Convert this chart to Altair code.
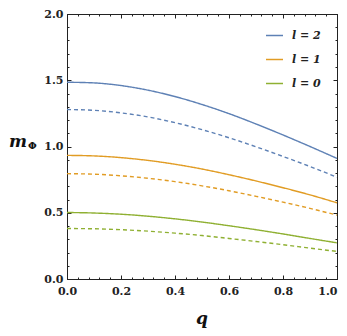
import altair as alt
import pandas as pd

# ---- data ----
q = [0.0, 0.1, 0.2, 0.3, 0.4, 0.5, 0.6, 0.7, 0.8, 0.9, 1.0]
l2_solid = [1.485, 1.480, 1.460, 1.425, 1.377, 1.317, 1.248, 1.170, 1.087, 1.000, 0.910]
l2_dashed = [1.279, 1.273, 1.254, 1.223, 1.180, 1.127, 1.066, 0.998, 0.925, 0.849, 0.768]
l1_solid = [0.933, 0.929, 0.916, 0.895, 0.866, 0.830, 0.787, 0.740, 0.689, 0.635, 0.575]
l1_dashed = [0.795, 0.791, 0.779, 0.760, 0.735, 0.703, 0.666, 0.624, 0.580, 0.533, 0.482]
l0_solid = [0.502, 0.498, 0.489, 0.474, 0.454, 0.430, 0.402, 0.372, 0.340, 0.306, 0.273]
l0_dashed = [0.381, 0.379, 0.372, 0.361, 0.346, 0.328, 0.306, 0.283, 0.259, 0.233, 0.208]

series_names = ["l = 2", "l = 1", "l = 0"]
colors = ["#5E81B5", "#E19C24", "#8FB032"]

x_major = [0.0, 0.2, 0.4, 0.6, 0.8, 1.0]
x_minor = [0.0, 0.04, 0.08, 0.12, 0.16, 0.2, 0.24, 0.28, 0.32, 0.36, 0.4, 0.44, 0.48,
           0.52, 0.56, 0.6, 0.64, 0.68, 0.72, 0.76, 0.8, 0.84, 0.88, 0.92, 0.96, 1.0]
y_major = [0.0, 0.5, 1.0, 1.5, 2.0]
y_minor = [0.0, 0.1, 0.2, 0.3, 0.4, 0.5, 0.6, 0.7, 0.8, 0.9, 1.0, 1.1, 1.2, 1.3, 1.4,
           1.5, 1.6, 1.7, 1.8, 1.9, 2.0]

rows = []
for name, kind, vals in [
    ("l = 2", "solid", l2_solid), ("l = 2", "dashed", l2_dashed),
    ("l = 1", "solid", l1_solid), ("l = 1", "dashed", l1_dashed),
    ("l = 0", "solid", l0_solid), ("l = 0", "dashed", l0_dashed),
]:
    for qq, v in zip(q, vals):
        rows.append({"q": qq, "m": v, "series": name, "kind": kind, "id": name + kind})
df = pd.DataFrame(rows)

W, H = 270, 265
FONT = "DejaVu Serif"

xs = alt.Scale(domain=[0, 1], nice=False, zero=False)
ys = alt.Scale(domain=[0, 2], nice=False, zero=False)

lines = alt.Chart(df).mark_line(strokeWidth=1.4, interpolate="monotone").encode(
    x=alt.X("q:Q", scale=xs, axis=alt.Axis(values=x_major, format=".1f", ticks=False, domain=False,
                                            grid=False, labelFont=FONT, labelFontWeight="bold",
                                            labelFontSize=11, labelColor="#222", labelPadding=6,
                                            labelFlush=False, title=None,
                                            labelAlign=alt.ExprRef(expr="datum.value >= 1 ? 'right' : 'center'"))),
    y=alt.Y("m:Q", scale=ys, axis=alt.Axis(values=y_major, format=".1f", ticks=False, domain=False,
                                            grid=False, labelFont=FONT, labelFontWeight="bold",
                                            labelFontSize=11, labelColor="#222", labelPadding=4,
                                            labelFlush=False, title=None)),
    color=alt.Color("series:N", scale=alt.Scale(domain=series_names, range=colors),
                    legend=alt.Legend(orient="none", legendX=198, legendY=12, title=None,
                                      symbolType="stroke", symbolSize=289, symbolStrokeWidth=1.5,
                                      labelFont=FONT, labelFontStyle="italic", labelFontWeight="bold",
                                      labelFontSize=11, labelColor="#222", labelOffset=8,
                                      rowPadding=9, padding=0)),
    strokeDash=alt.StrokeDash("kind:N", scale=alt.Scale(domain=["solid", "dashed"],
                                                          range=[[1, 0], [4, 3]]), legend=None),
    detail="id:N",
)


def tick_layer(xvals, yvals, size, x_orient, y_orient, x_off, y_off):
    return alt.Chart(df).mark_point(opacity=0).encode(
        x=alt.X("q:Q", scale=xs, axis=alt.Axis(values=xvals, orient=x_orient, offset=x_off,
                                                tickSize=size, labels=False, domain=False,
                                                grid=False, title=None, tickColor="#222")),
        y=alt.Y("m:Q", scale=ys, axis=alt.Axis(values=yvals, orient=y_orient, offset=y_off,
                                                tickSize=size, labels=False, domain=False,
                                                grid=False, title=None, tickColor="#222")),
    )


t1 = tick_layer(x_minor, y_minor, 2, "top", "right", -H, -W)
t2 = tick_layer(x_minor, y_minor, 2, "bottom", "left", -H, -W)
t3 = tick_layer(x_major, y_major, 4, "top", "right", -H, -W)
t4 = tick_layer(x_major, y_major, 4, "bottom", "left", -H, -W)

lab_df = pd.DataFrame({"a": [0]})
m_txt = alt.Chart(lab_df).mark_text(text="m", font=FONT, fontStyle="italic", fontWeight="bold",
                                    fontSize=17, align="left", baseline="alphabetic",
                                    color="#111").encode(x=alt.value(-58), y=alt.value(133))
phi_txt = alt.Chart(lab_df).mark_text(text="Φ", font=FONT, fontWeight="bold", fontSize=10,
                                      align="left", baseline="alphabetic",
                                      color="#111").encode(x=alt.value(-39), y=alt.value(135))
q_txt = alt.Chart(lab_df).mark_text(text="q", font=FONT, fontStyle="italic", fontWeight="bold",
                                    fontSize=17, align="center", baseline="alphabetic",
                                    color="#111").encode(x=alt.value(135), y=alt.value(310))

chart = alt.layer(lines, t1, t2, t3, t4, m_txt, phi_txt, q_txt).resolve_scale(
    x="independent", y="independent"
).properties(
    width=W, height=H,
    autosize=alt.AutoSizeParams(type="none"),
    padding={"left": 59, "top": 6, "right": 2, "bottom": 49},
).configure_view(stroke="#222", strokeWidth=1)

chart.save("out.html", embed_options={"renderer": "svg", "actions": False})
